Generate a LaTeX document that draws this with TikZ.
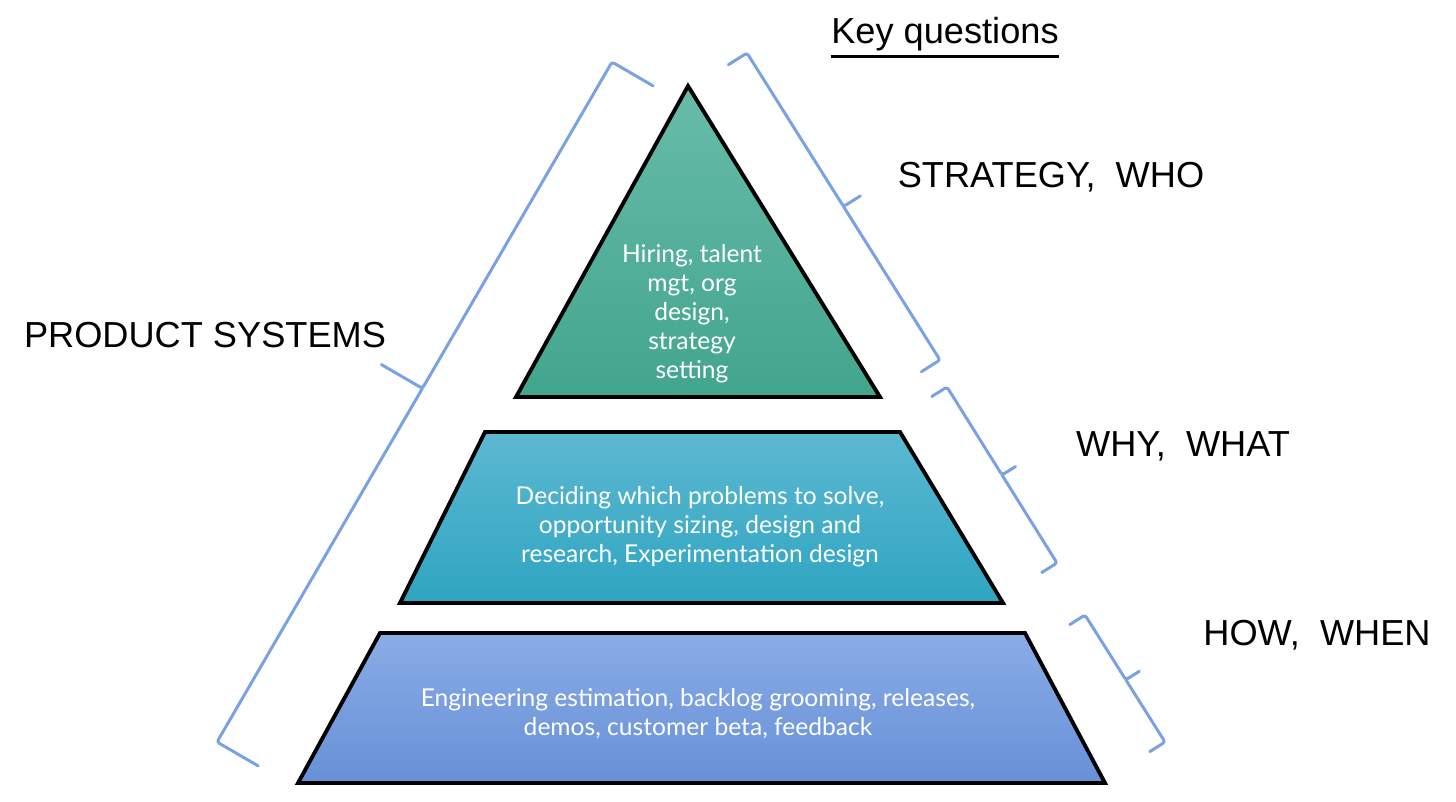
\documentclass[tikz,border=0pt]{standalone}
\usepackage{fontspec}
\setmainfont{Liberation Sans}
\newfontfamily\tierfont{Lato}
\usepackage{tikz}
\usetikzlibrary{calc,shadows}

\definecolor{BraceBlue} {RGB}{122,162,226}
\definecolor{TealTop}   {RGB}{103,188,169}
\definecolor{TealBot}   {RGB}{ 67,165,142}
\definecolor{CyanTop}   {RGB}{ 93,184,209}
\definecolor{CyanBot}   {RGB}{ 46,165,194}
\definecolor{BlueTop}   {RGB}{138,172,231}
\definecolor{BlueBot}   {RGB}{102,144,214}

% corner A, corner B, hook, tip, cusp fraction, side angle
\newcommand{\keybrace}[6]{%
  \coordinate (kbm) at ($(#1)!#5!(#2)$);
  \coordinate (kba) at ($(#1)!#3!#6:(#2)$);
  \draw[bracket] (kba) -- (#1) -- (kbm) -- ($(kbm)!#4!#6:(#1)$);
  \draw[bracket] (kbm) -- (#2) -- ($(#2)+(kba)-(#1)$);
}

\begin{document}
\begin{tikzpicture}[
  x=0.02cm, y=-0.02cm,
  tier/.style={
    draw=black, line width=2.2pt,
    drop shadow={shadow xshift=0.6pt,
      shadow yshift=-1.2pt, opacity=0.3}
  },
  tiertext/.style={
    text=white, align=center,
    font=\tierfont\fontsize{14}{16.5}\selectfont
  },
  keylabel/.style={
    font=\fontsize{20.6}{24}\selectfont,
    inner sep=0pt
  },
  bracket/.style={
    draw=BraceBlue, line width=1.7pt,
    rounded corners=1.5pt, line cap=round
  }
]
\useasboundingbox (0,0) rectangle (1456,801);

% pyramid
\draw[tier, top color=TealTop, bottom color=TealBot]
  (688,86) -- (880,397) -- (516,397) -- cycle;
\draw[tier, top color=CyanTop, bottom color=CyanBot]
  (485,432) -- (900,432) -- (1003,603) -- (400,603) -- cycle;
\draw[tier, top color=BlueTop, bottom color=BlueBot]
  (380,633) -- (1025,633) -- (1105,783) -- (298,783) -- cycle;

\node[tiertext] (hiring) at (692,314)
  {Hiring, talent\\mgt, org\\design,\\strategy\\setting};
\node[tiertext] (deciding) at (700,527)
  {Deciding which problems to solve,\\
   opportunity sizing, design and\\
   research, Experimentation design};
\node[tiertext] (engineering) at (698,714)
  {Engineering estimation, backlog grooming, releases,\\
   demos, customer beta, feedback};

% braces
\coordinate (psTop) at (612,62);
\coordinate (psBot) at (217,742);
\coordinate (swTop) at (747,53);
\coordinate (swBot) at (940,360);
\coordinate (wwTop) at (947,387);
\coordinate (wwBot) at (1057,563);
\coordinate (hwTop) at (1085,615);
\coordinate (hwBot) at (1165,742);

\keybrace{psTop}{psBot}{0.95cm}{0.95cm}{0.48}{90}
\keybrace{swTop}{swBot}{0.44cm}{0.40cm}{0.5}{-90}
\keybrace{wwTop}{wwBot}{0.36cm}{0.32cm}{0.5}{-90}
\keybrace{hwTop}{hwBot}{0.36cm}{0.32cm}{0.51}{-90}

% labels
\node[keylabel] (keyq) at (945,34)
  {Key questions};
\draw[line width=1.5pt] ([yshift=-3pt]keyq.south west)
  -- ([yshift=-3pt]keyq.south east);
\node[keylabel] (strat) at (1051,177)
  {STRATEGY,\ \ WHO};
\node[keylabel] (whywhat) at (1183,446)
  {WHY,\ \ WHAT};
\node[keylabel] (howwhen) at (1317,635)
  {HOW,\ \ WHEN};
\node[keylabel] (prodsys) at (205,335)
  {PRODUCT SYSTEMS};

\end{tikzpicture}
\end{document}
